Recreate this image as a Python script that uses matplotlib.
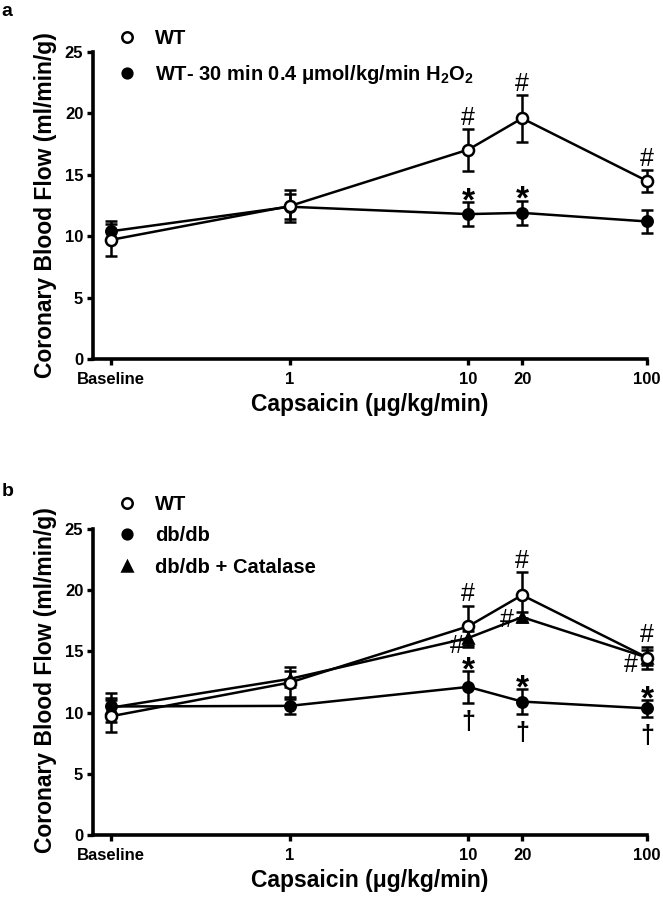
import matplotlib
matplotlib.use("Agg")
import matplotlib.pyplot as plt
from matplotlib.lines import Line2D
from matplotlib.ticker import NullLocator, FixedLocator

plt.rcParams['font.family'] = ['Liberation Sans', 'DejaVu Sans']
plt.rcParams['font.weight'] = 'bold'
plt.rcParams['mathtext.fontset'] = 'custom'
plt.rcParams['mathtext.rm'] = 'Liberation Sans:bold'
plt.rcParams['mathtext.it'] = 'Liberation Sans:bold'
plt.rcParams['mathtext.bf'] = 'Liberation Sans:bold'
plt.rcParams['mathtext.default'] = 'rm'

# ---------------- data ----------------
dose_pos = [0.1, 1, 10, 20, 100]
dose_labels = ["Baseline", "1", "10", "20", "100"]

wt_mean = [9.7, 12.45, 17.05, 19.6, 14.5]
wt_err = [1.3, 1.3, 1.7, 1.9, 0.9]

h2o2_mean = [10.4, 12.4, 11.8, 11.9, 11.2]
h2o2_err = [0.8, 1.0, 0.95, 1.0, 0.9]

db_mean = [10.5, 10.55, 12.1, 10.9, 10.35]
db_err = [0.7, 0.7, 1.3, 1.0, 0.7]

cat_mean = [10.4, 12.75, 16.1, 17.8, 14.5]
cat_err = [1.2, 0.65, 0.6, 0.4, 0.6]

# significance marks (indices into dose_pos)
a_wt_hash = [2, 3, 4]
a_h2o2_star = [2, 3]
b_wt_hash = [2, 3, 4]
b_cat_hash = [2, 3, 4]
b_db_star = [2, 3, 4]
b_db_dagger = [2, 3, 4]

label_wt = "WT"
label_h2o2 = "WT- 30 min 0.4 \u03bcmol/kg/min H$_2$O$_2$"
label_db = "db/db"
label_cat = "db/db + Catalase"
ylabel = "Coronary Blood Flow (ml/min/g)"
xlabel = "Capsaicin (\u03bcg/kg/min)"

# ---------------- figure ----------------
W, H = 663, 900
fig = plt.figure(figsize=(W / 100, H / 100), dpi=100)

LW = 1.8


def px_ax(left, top, right, bottom):
    return [left / W, 1 - bottom / H, (right - left) / W, (bottom - top) / H]


def style_axes(ax):
    ax.set_xscale('log')
    ax.set_xlim(10 ** -1.1, 100)
    ax.set_ylim(0, 25)
    ax.xaxis.set_major_locator(FixedLocator(dose_pos))
    ax.xaxis.set_minor_locator(NullLocator())
    ax.set_xticklabels(dose_labels)
    ax.set_yticks([0, 5, 10, 15, 20, 25])
    for s in ['top', 'right']:
        ax.spines[s].set_visible(False)
    for s in ['left', 'bottom']:
        ax.spines[s].set_linewidth(2.6)
    ax.tick_params(axis='both', which='major', length=4.5, width=2.4,
                   labelsize=12, direction='out')
    ax.tick_params(axis='x', pad=5)
    ax.tick_params(axis='y', pad=2.5)
    for lab in ax.get_xticklabels() + ax.get_yticklabels():
        lab.set_fontweight('bold')
    ax.set_xlabel(xlabel, fontsize=16.5, fontweight='bold', labelpad=4)


def series(ax, mean, err, marker, mfc, ms, z):
    cont = ax.errorbar(dose_pos, mean, yerr=err, fmt='-', marker=marker,
                       color='black', mfc=mfc, mec='black', ms=ms, mew=1.8,
                       lw=LW, elinewidth=LW, capsize=4, capthick=LW, zorder=z)
    cont.lines[0].set_clip_on(False)
    for c in cont.lines[1]:
        c.set_clip_on(False)
    for b in cont.lines[2]:
        b.set_clip_on(False)
    return cont


def mark(ax, sym, idxs, mean, err, above, dx, dy, size, weight, ha='center'):
    for k, i in enumerate(idxs):
        yv = mean[i] + err[i] if above else mean[i] - err[i]
        ox = dx[k] if isinstance(dx, list) else dx
        oy = dy[k] if isinstance(dy, list) else dy
        ax.annotate(sym, xy=(dose_pos[i], yv), xytext=(ox, oy),
                    textcoords='offset points', ha=ha, va='baseline',
                    fontsize=size, fontweight=weight, annotation_clip=False,
                    zorder=10)


def ylab(y_center):
    fig.text(46 / W, 1 - y_center / H, ylabel, rotation=90, ha='center',
             va='center', fontsize=16.5, fontweight='bold')


# ---------------- panel a ----------------
axa = fig.add_axes(px_ax(93, 52, 647, 359))
style_axes(axa)
series(axa, h2o2_mean, h2o2_err, 'o', 'black', 7.5, 3)
series(axa, wt_mean, wt_err, 'o', 'white', 8, 4)
mark(axa, '#', a_wt_hash, wt_mean, wt_err, True, 0, 3, 18, 'normal')
mark(axa, '*', a_h2o2_star, h2o2_mean, h2o2_err, True, 0, -6, 24, 'bold')
ylab(205)

h_a = [Line2D([], [], ls='none', marker='o', mfc='white', mec='black', ms=7.5, mew=1.8),
       Line2D([], [], ls='none', marker='o', mfc='black', mec='black', ms=7, mew=1.8)]
axa.legend(h_a, [label_wt, label_h2o2], loc='upper left',
           bbox_to_anchor=(117 / W, 1 - 29 / H), bbox_transform=fig.transFigure,
           frameon=False, borderpad=0, borderaxespad=0, handlelength=1.0,
           handletextpad=0.9, labelspacing=0.75,
           prop={'size': 14.5, 'weight': 'bold'})
fig.text(7 / W, 1 - 12 / H, 'a', fontsize=14, fontweight='bold', ha='center', va='center')

# ---------------- panel b ----------------
axb = fig.add_axes(px_ax(93, 529, 647, 835))
style_axes(axb)
series(axb, db_mean, db_err, 'o', 'black', 7.5, 3)
series(axb, cat_mean, cat_err, '^', 'black', 7, 4)
series(axb, wt_mean, wt_err, 'o', 'white', 8, 5)
mark(axb, '#', b_wt_hash, wt_mean, wt_err, True, 0, 3, 18, 'normal')
mark(axb, '#', b_cat_hash, cat_mean, [0, 0, 0, 0, 0], True,
     [-3, -6, -7], [-10.6, -7.0, -10.6], 18, 'normal', ha='right')
mark(axb, '*', b_db_star, db_mean, db_err, True, 0, -6, 24, 'bold')
mark(axb, '\u2020', b_db_dagger, db_mean, db_err, False, 0, -18.5, 18, 'bold')
ylab(680)

h_b = [Line2D([], [], ls='none', marker='o', mfc='white', mec='black', ms=7.5, mew=1.8),
       Line2D([], [], ls='none', marker='o', mfc='black', mec='black', ms=7, mew=1.8),
       Line2D([], [], ls='none', marker='^', mfc='black', mec='black', ms=6.5, mew=1.8)]
axb.legend(h_b, [label_wt, label_db, label_cat], loc='upper left',
           bbox_to_anchor=(117 / W, 1 - 495 / H), bbox_transform=fig.transFigure,
           frameon=False, borderpad=0, borderaxespad=0, handlelength=1.0,
           handletextpad=0.9, labelspacing=0.62,
           prop={'size': 14.5, 'weight': 'bold'})
fig.text(8 / W, 1 - 491 / H, 'b', fontsize=14, fontweight='bold', ha='center', va='center')

fig.savefig('out.png', dpi=100)
